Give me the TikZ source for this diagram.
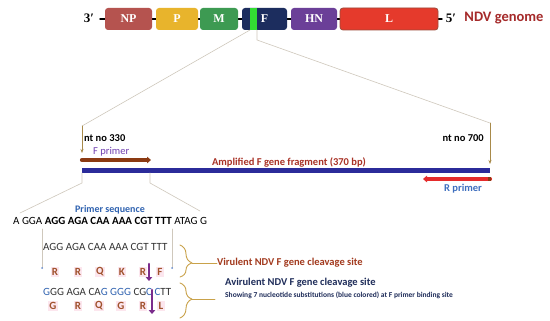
\documentclass[tikz,border=0pt]{standalone}
\usepackage{fontspec}
\setmainfont{Carlito}
\newfontfamily\genefont{Liberation Serif}
\usepackage{xcolor}
\usetikzlibrary{arrows.meta,decorations.pathreplacing,positioning}

\definecolor{npcol}{HTML}{B5534F}
\definecolor{pcol}{HTML}{E8B42C}
\definecolor{mcol}{HTML}{3D9A52}
\definecolor{fcol}{HTML}{1C2D5E}
\definecolor{fstripe}{HTML}{33DD33}
\definecolor{hncol}{HTML}{6B3F98}
\definecolor{lcol}{HTML}{E53A2C}
\definecolor{lborder}{HTML}{9C4A3A}
\definecolor{genomered}{HTML}{A52A2A}
\definecolor{ampred}{HTML}{A93226}
\definecolor{fprimercol}{HTML}{7040B0}
\definecolor{rprimercol}{HTML}{3F6FBF}
\definecolor{seqblue}{HTML}{2F62B0}
\definecolor{primerF}{HTML}{8B3A12}
\definecolor{primerR}{HTML}{E52B2B}
\definecolor{fragblue}{HTML}{2B2B9A}
\definecolor{pin}{HTML}{A88A4A}
\definecolor{guidegray}{HTML}{CFC8BC}
\definecolor{aminocol}{HTML}{A0522D}
\definecolor{aminobg}{HTML}{FCE6EE}
\definecolor{cleavecol}{HTML}{7B2C8C}
\definecolor{bracecol}{HTML}{C9A24A}
\definecolor{virred}{HTML}{A23A1E}
\definecolor{avirnavy}{HTML}{1F2D5A}
\definecolor{seqgray}{HTML}{333333}
\definecolor{dotblue}{HTML}{6A8FD0}

\begin{document}
\begin{tikzpicture}[
    x=1pt,
    y=-1pt,
    >=Stealth,
    line cap=round,
    line join=round,
    gene/.style={rounded corners=3pt, minimum height=22pt, inner sep=0pt,
        text=white, font=\genefont\bfseries\fontsize{12}{12}\selectfont},
    guide/.style={draw=guidegray, line width=0.6pt},
    pinline/.style={draw=pin, line width=0.6pt, -{Stealth[length=4pt,width=3pt]}},
    lbl/.style={font=\bfseries\fontsize{10.5}{10.5}\selectfont, inner sep=0pt},
    seqtext/.style={font=\fontsize{11}{11}\selectfont, inner sep=0pt},
    amino/.style={font=\bfseries\fontsize{11}{11}\selectfont, text=aminocol,
        fill=aminobg, inner sep=1.2pt},
    cleave/.style={draw=cleavecol, line width=2.6pt,
        -{Triangle[length=4pt,width=6.5pt]}},
    bracecurl/.style={draw=bracecol, line width=0.9pt, decorate}
]

% Area
\fill[white] (0,0) rectangle (550,321);
\useasboundingbox (0,0) rectangle (550,321);

% Genoma
\draw[line width=1.4pt] (100,19) -- (442,19);
\node[gene, fill=npcol, minimum width=47pt] (np) at (128.5,19) {NP};
\node[gene, fill=pcol, minimum width=42pt] (p) at (177,19) {P};
\node[gene, fill=mcol, minimum width=38pt] (m) at (219,19) {M};
\node[gene, fill=fcol, minimum width=45pt] (f) at (264.5,19) {F};
\fill[fstripe] (250,8) rectangle (257,30);
\node[gene, fill=hncol, minimum width=46pt] (hn) at (314,19) {HN};
\node[gene, fill=lcol, draw=lborder, line width=0.8pt, minimum width=98pt] (l) at (389,19) {L};

\node[font=\genefont\bfseries\fontsize{13}{13}\selectfont, inner sep=0pt] (end3) at (89,18) {3′};
\node[font=\genefont\bfseries\fontsize{13}{13}\selectfont, inner sep=0pt] (end5) at (451,18) {5′};
\node[lbl, font=\bfseries\fontsize{14.5}{14.5}\selectfont, text=genomered, anchor=west,
    right=8pt of end5] (ndv) {NDV genome};

% Frammento amplificato
\node[fill=fragblue, minimum width=408pt, minimum height=5pt, inner sep=0pt] (frag) at (286,170.5) {};

\coordinate (fleft) at (250,30);
\coordinate (fright) at (257,30);
\coordinate (kneeL) at (82,126);
\coordinate (kneeR1) at (257,40);
\coordinate (kneeR2) at (490,123);
\coordinate (tip330) at (82,153);
\coordinate (tip700) at (490,164);

\draw[guide] (fleft) -- (kneeL);
\draw[guide] (fright) -- (kneeR1) -- (kneeR2);
\draw[pinline] (kneeL) -- (tip330);
\draw[pinline] (kneeR2) -- (tip700);

\node[lbl, anchor=west] (nt330) at (84,138) {nt no 330};
\node[lbl, anchor=east] (nt700) at (484,138) {nt no 700};
\node[font=\fontsize{10.5}{10.5}\selectfont, inner sep=0pt, text=fprimercol, anchor=west] (fplbl) at (93,152) {F primer};
\node[lbl, text=ampred] (amp) at (289,162) {Amplified F gene fragment (370 bp)};
\node[lbl, text=rprimercol] (rplbl) at (463,189) {R primer};

% Primer
\coordinate (fp0) at (82,160);
\coordinate (fp1) at (151,160);
\coordinate (rp0) at (490,179);
\coordinate (rp1) at (423,179);
\draw[primerF, line width=4.2pt, -{Triangle[length=4pt,width=6.5pt]}] (fp0) -- (fp1);
\draw[primerR, line width=4.2pt, -{Triangle[length=4pt,width=6.5pt]}] (rp0) -- (rp1);
\fill[primerF] (488,177) rectangle (491,181);

% Sequenza del primer
\coordinate (zoomL0) at (82,173);
\coordinate (zoomL1) at (82,183);
\coordinate (zoomL2) at (20,213);
\coordinate (zoomR0) at (150,173);
\coordinate (zoomR1) at (150,183);
\coordinate (zoomR2) at (200,211);
\draw[guide] (zoomL0) -- (zoomL1) -- (zoomL2);
\draw[guide] (zoomR0) -- (zoomR1) -- (zoomR2);

\node[lbl, font=\bfseries\fontsize{10}{10}\selectfont, text=seqblue] (pslbl) at (110,210) {Primer sequence};
\node[seqtext, anchor=west] (seq) at (13,221)
    {A GGA \textbf{AGG AGA CAA AAA CGT TTT} ATAG G};

\coordinate (s1) at (42,229);
\coordinate (s2) at (172,229);
\coordinate (d1) at (42,268);
\coordinate (d2) at (172,268);
\draw[guide] (s1) -- (d1);
\draw[guide] (s2) -- (d2);
\fill[dotblue] (d1) circle (1pt);
\fill[dotblue] (d2) circle (1pt);

% Sito di taglio virulento
\node[seqtext, text=seqgray, anchor=west] (virseq) at (43,247) {AGG AGA CAA AAA CGT TTT};
\foreach \x/\aa in {55/R,78/R,100/Q,122/K,143/R,160/F}
    \node[amino] (vaa\x) at (\x,272) {\aa};
\coordinate (cut1a) at (149,264);
\coordinate (cut1b) at (149,281);
\draw[cleave] (cut1a) -- (cut1b);

% Sito di taglio avirulento
\node[seqtext, text=seqgray, anchor=west] (avirseq) at (43,292)
    {\textcolor{seqblue}{G}GG AGA CA\textcolor{seqblue}{G} \textcolor{seqblue}{GGG} CG\textcolor{seqblue}{C} \textcolor{seqblue}{C}TT};
\foreach \x/\aa in {53/G,78/R,99/Q,121/G,143/R,161/L}
    \node[amino] (aaa\x) at (\x,306) {\aa};
\coordinate (cut2a) at (152,290);
\coordinate (cut2b) at (152,314);
\draw[cleave] (cut2a) -- (cut2b);

% Parentesi e testi
\coordinate (br1a) at (180,245);
\coordinate (br1b) at (180,277);
\coordinate (br1tip) at (192,263);
\draw[bracecurl, decoration={brace, amplitude=12pt, aspect=0.56}] (br1a) -- (br1b);
\node[lbl, text=virred, anchor=west] (vir) at (217,263) {Virulent NDV F gene cleavage site};
\draw[draw=bracecol, line width=0.9pt] (br1tip) -- (vir.west);

\coordinate (br2a) at (180,283);
\coordinate (br2b) at (180,318);
\coordinate (br2tip) at (192,299);
\coordinate (br2end) at (215,299);
\draw[bracecurl, decoration={brace, amplitude=12pt, aspect=0.46}] (br2a) -- (br2b);
\draw[draw=bracecol, line width=0.9pt] (br2tip) -- (br2end);
\node[lbl, text=avirnavy, anchor=west] (avir) at (225,283) {Avirulent NDV F gene cleavage site};
\node[font=\bfseries\fontsize{7.5}{7.5}\selectfont, inner sep=0pt, text=avirnavy, anchor=west] (avirsub) at (225,295)
    {Showing 7 nucleotide substitutions (blue colored) at F primer binding site};

\end{tikzpicture}
\end{document}
